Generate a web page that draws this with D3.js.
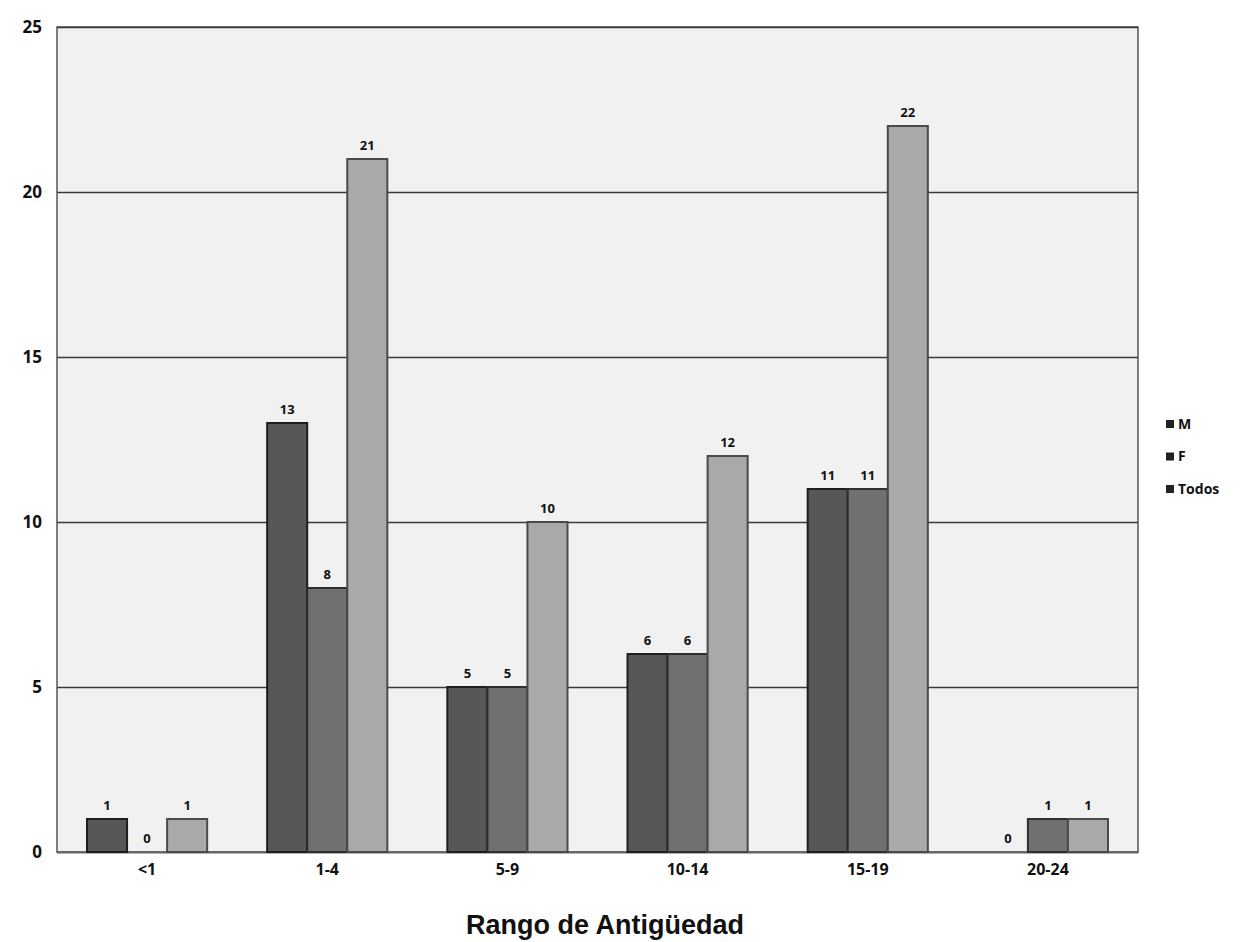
<!DOCTYPE html>
<html>
<head>
<meta charset="utf-8">
<script src="https://cdn.jsdelivr.net/npm/d3@7"></script>
<style>
  body { margin: 0; background: #fff; }
  text { font-family: "Open Sans", "DejaVu Sans", sans-serif; }
</style>
</head>
<body>
<div id="chart"></div>
<script>
var categories = ["<1", "1-4", "5-9", "10-14", "15-19", "20-24"];
var series = ["M", "F", "Todos"];
var valuesM = [1, 13, 5, 6, 11, 0];
var valuesF = [0, 8, 5, 6, 11, 1];
var valuesTodos = [1, 21, 10, 12, 22, 1];
var yTicks = [0, 5, 10, 15, 20, 25];

var width = 1249, height = 942;
var margin = {top: 27, right: 111, bottom: 90, left: 57};
var w = width - margin.left - margin.right,
    h = height - margin.top - margin.bottom;

var data = categories.map(function (c, i) {
    return {cat: c, vals: [valuesM[i], valuesF[i], valuesTodos[i]]};
});

var x0 = d3.scaleBand().domain(categories).range([0, w]);
var x1 = d3.scaleBand().domain(series).range([30, x0.bandwidth() - 30]);
var y = d3.scaleLinear().domain([0, 25]).range([h, 0]);

var color = d3.scaleOrdinal().domain(series).range(["#575757", "#707070", "#a9a9a9"]);
var stroke = d3.scaleOrdinal().domain(series).range(["#1e1e1e", "#2e2e2e", "#4a4a4a"]);

var svg = d3.select("#chart").append("svg")
    .attr("width", width)
    .attr("height", height)
  .append("g")
    .attr("transform", "translate(" + margin.left + "," + margin.top + ")");

svg.append("rect")
    .attr("width", w)
    .attr("height", h)
    .style("fill", "#f1f1f1")
    .style("stroke", "#555")
    .style("stroke-width", 1.5);

var yAxis = d3.axisLeft(y).tickValues(yTicks).tickSize(-w).tickPadding(15);
svg.append("g")
    .attr("class", "y axis")
    .call(yAxis)
    .call(function (g) {
        g.select(".domain").remove();
        g.selectAll(".tick line").style("stroke", "#3a3a3a").style("stroke-width", 1.3);
        g.selectAll(".tick text")
          .style("font-size", "17px")
          .style("font-weight", "bold")
          .style("fill", "#111");
    });

var xAxis = d3.axisBottom(x0).tickSize(0).tickPadding(12);
svg.append("g")
    .attr("class", "x axis")
    .attr("transform", "translate(0," + h + ")")
    .call(xAxis)
    .call(function (g) {
        g.select(".domain").style("stroke", "#666").style("stroke-width", 1.5);
        g.selectAll(".tick text")
          .style("font-size", "16px")
          .style("font-weight", "bold")
          .style("fill", "#111");
    });

var groups = svg.selectAll(".group")
    .data(data)
  .enter().append("g")
    .attr("class", "group")
    .attr("transform", function (d) { return "translate(" + x0(d.cat) + ",0)"; });

var cells = groups.selectAll(".bar")
    .data(function (d) { return d.vals.map(function (v, i) { return {s: series[i], v: v}; }); })
  .enter();

cells.append("rect")
    .attr("class", "bar")
    .attr("x", function (d) { return x1(d.s); })
    .attr("y", function (d) { return y(d.v); })
    .attr("width", x1.bandwidth())
    .attr("height", function (d) { return h - y(d.v); })
    .style("fill", function (d) { return color(d.s); })
    .style("stroke", function (d) { return stroke(d.s); })
    .style("stroke-width", function (d) { return d.v > 0 ? 2 : 0; });

cells.append("text")
    .attr("x", function (d) { return x1(d.s) + x1.bandwidth() / 2; })
    .attr("y", function (d) { return y(d.v) - 9; })
    .style("text-anchor", "middle")
    .style("font-size", "13px")
    .style("font-weight", "bold")
    .style("fill", "#111")
    .text(function (d) { return d.v; });

var legend = svg.selectAll(".legend")
    .data(series)
  .enter().append("g")
    .attr("class", "legend")
    .attr("transform", function (d, i) { return "translate(" + (w + 28) + "," + (393 + i * 32.5) + ")"; });

legend.append("rect")
    .attr("width", 8)
    .attr("height", 8)
    .style("fill", "#222");

legend.append("text")
    .attr("x", 12)
    .attr("y", 4)
    .attr("dy", ".35em")
    .style("font-size", "14px")
    .style("font-weight", "bold")
    .style("fill", "#111")
    .text(function (d) { return d; });

svg.append("text")
    .attr("x", 605 - margin.left)
    .attr("y", 934 - margin.top)
    .style("text-anchor", "middle")
    .style("font-family", "'Liberation Sans', Arial, sans-serif")
    .style("font-size", "27px")
    .style("font-weight", "bold")
    .style("fill", "#111")
    .text("Rango de Antigüedad");
</script>
</body>
</html>
